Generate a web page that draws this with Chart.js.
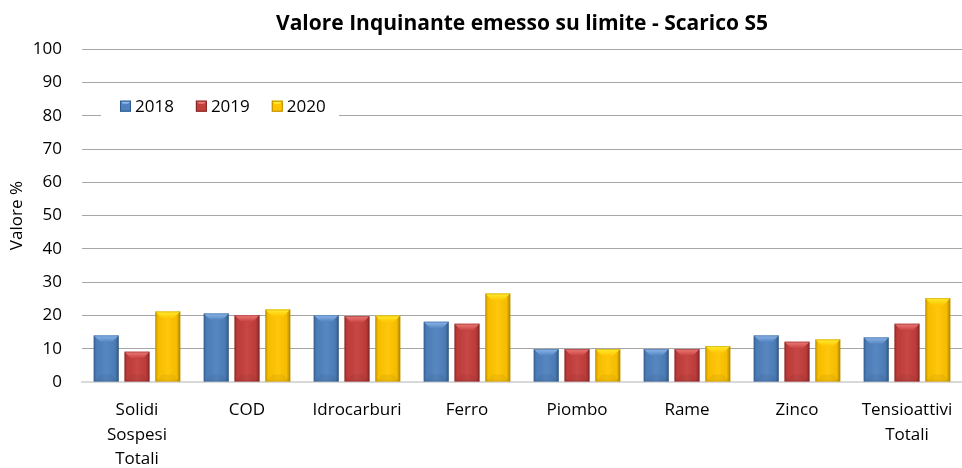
<!DOCTYPE html>
<html>
<head>
<meta charset="utf-8">
<script src="https://cdn.jsdelivr.net/npm/chart.js@4/dist/chart.umd.min.js"></script>
<style>
html,body{margin:0;padding:0;background:#fff;}
#wrap{width:962px;height:468px;}
</style>
</head>
<body>
<div id="wrap"><canvas id="c" width="962" height="468"></canvas></div>
<script>
const categories = [["Solidi","Sospesi","Totali"],"COD","Idrocarburi","Ferro","Piombo","Rame","Zinco",["Tensioattivi","Totali"]];
const seriesNames = ["2018","2019","2020"];
const values2018 = [14.0, 20.6, 20.1, 18.1, 9.9, 9.9, 14.0, 13.4];
const values2019 = [9.1, 20.1, 19.8, 17.5, 9.9, 9.9, 12.1, 17.5];
const values2020 = [21.2, 21.8, 20.0, 26.6, 9.9, 10.8, 12.8, 25.2];
const yTicks = [0,10,20,30,40,50,60,70,80,90,100];
const chartTitle = "Valore Inquinante emesso su limite - Scarico S5";
const yTitle = "Valore %";

const baseColors = ["#4F81BD","#C43E3C","#FFC400"];
const lightColors = ["#8FB8EC","#EE7C7A","#FFEE30"];
const darkColors = ["#2E5A8E","#7E2624","#B88A00"];
const FONT = "'Open Sans', 'Liberation Sans', Arial, sans-serif";

const bevelPlugin = {
  id: 'bevel',
  afterDatasetsDraw(chart) {
    const ctx = chart.ctx;
    chart.data.datasets.forEach((ds, di) => {
      const meta = chart.getDatasetMeta(di);
      meta.data.forEach(bar => {
        const w = bar.width, x0 = bar.x - w/2, x1 = bar.x + w/2;
        const top = bar.y, bottom = bar.base;
        const h = bottom - top;
        const b = Math.min(7, h/3);
        ctx.save();
        const g = ctx.createLinearGradient(x0, 0, x1, 0);
        g.addColorStop(0, 'rgba(0,0,0,0.22)');
        g.addColorStop(0.12, 'rgba(0,0,0,0.03)');
        g.addColorStop(0.5, 'rgba(255,255,255,0.05)');
        g.addColorStop(0.85, 'rgba(0,0,0,0.04)');
        g.addColorStop(1, 'rgba(0,0,0,0.32)');
        ctx.fillStyle = g;
        ctx.fillRect(x0, top, w, h);
        const tg = ctx.createLinearGradient(0, top, 0, top + b);
        tg.addColorStop(0, lightColors[di]);
        tg.addColorStop(1, baseColors[di]);
        ctx.beginPath();
        ctx.moveTo(x0, top);
        ctx.lineTo(x1, top);
        ctx.lineTo(x1 - b, top + b);
        ctx.lineTo(x0 + b, top + b);
        ctx.closePath();
        ctx.fillStyle = tg;
        ctx.fill();
        ctx.beginPath();
        ctx.moveTo(x0, bottom);
        ctx.lineTo(x1, bottom);
        ctx.lineTo(x1 - b, bottom - b);
        ctx.lineTo(x0 + b, bottom - b);
        ctx.closePath();
        ctx.fillStyle = 'rgba(0,0,0,0.05)';
        ctx.fill();
        ctx.strokeStyle = darkColors[di];
        ctx.globalAlpha = 0.45;
        ctx.lineWidth = 1;
        ctx.strokeRect(x0 + 0.5, top + 0.5, w - 1, h - 1);
        ctx.restore();
      });
    });
  }
};

const legendPlugin = {
  id: 'innerLegend',
  afterDatasetsDraw(chart) {
    const ctx = chart.ctx;
    const a = chart.chartArea;
    const bx = a.left + 19, by = a.top + 43, bw = 238, bh = 28;
    ctx.save();
    ctx.fillStyle = '#ffffff';
    ctx.fillRect(bx, by, bw, bh);
    ctx.font = "17px " + FONT;
    ctx.textBaseline = 'middle';
    const cy = by + bh/2;
    let x = bx + 19;
    chart.data.datasets.forEach((ds, di) => {
      const s = 11;
      ctx.fillStyle = baseColors[di];
      ctx.fillRect(x, cy - s/2, s, s);
      ctx.fillStyle = lightColors[di];
      ctx.beginPath();
      ctx.moveTo(x, cy - s/2); ctx.lineTo(x + s, cy - s/2); ctx.lineTo(x + s - 3, cy - s/2 + 3); ctx.lineTo(x + 3, cy - s/2 + 3); ctx.closePath(); ctx.fill();
      ctx.strokeStyle = darkColors[di];
      ctx.lineWidth = 1;
      ctx.strokeRect(x + 0.5, cy - s/2 + 0.5, s - 1, s - 1);
      ctx.fillStyle = '#000000';
      ctx.fillText(ds.label, x + s + 4, cy + 1);
      x += s + 4 + ctx.measureText(ds.label).width + 22;
    });
    ctx.restore();
  }
};

new Chart(document.getElementById('c'), {
  type: 'bar',
  data: {
    labels: categories,
    datasets: [
      {label: seriesNames[0], data: values2018, backgroundColor: baseColors[0]},
      {label: seriesNames[1], data: values2019, backgroundColor: baseColors[1]},
      {label: seriesNames[2], data: values2020, backgroundColor: baseColors[2]}
    ]
  },
  options: {
    responsive: false,
    animation: false,
    devicePixelRatio: 1,
    layout: {padding: {left: 0, right: -4, top: 0, bottom: 0}},
    datasets: {bar: {categoryPercentage: 0.84, barPercentage: 0.81, borderWidth: 0}},
    plugins: {
      legend: {display: false},
      tooltip: {enabled: false},
      title: {
        display: true,
        fullSize: false,
        text: chartTitle,
        color: '#000000',
        font: {family: FONT, size: 21, weight: 'bold', lineHeight: 1.2},
        padding: {top: 11, bottom: 13}
      }
    },
    scales: {
      x: {
        grid: {display: false, drawTicks: false},
        border: {display: true, color: '#d9d9d9', width: 2},
        ticks: {color: '#000000', font: {family: FONT, size: 17, lineHeight: 1.44}, padding: 16, maxRotation: 0, autoSkip: false},
        afterFit(scale) { scale.height = 86; scale.paddingLeft = 0; scale.paddingRight = 0; }
      },
      y: {
        min: 0, max: 100,
        afterBuildTicks(scale) { scale.ticks = yTicks.map(v => ({value: v})); },
        grid: {color: '#a6a6a6', lineWidth: 1, drawTicks: false},
        border: {display: false},
        ticks: {color: '#000000', font: {family: FONT, size: 17}, padding: 20},
        title: {display: true, text: yTitle, color: '#000000', font: {family: FONT, size: 17}, padding: {top: 7, bottom: 0}},
        afterFit(scale) { scale.width = 82; }
      }
    }
  },
  plugins: [bevelPlugin, legendPlugin]
});
</script>
</body>
</html>
